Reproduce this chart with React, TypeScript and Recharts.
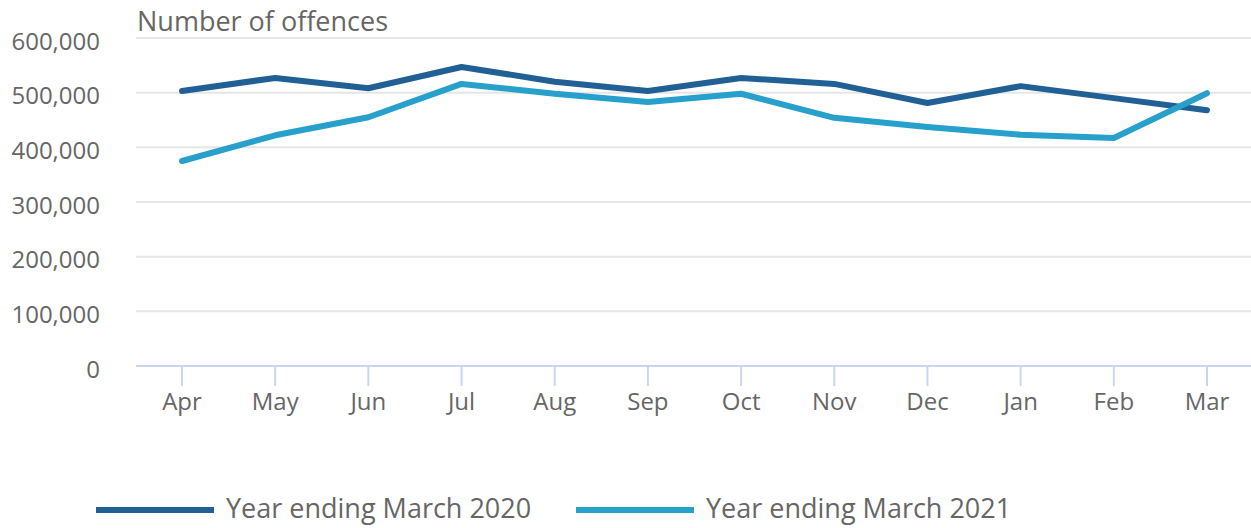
import React from "react";
import { LineChart, Line, XAxis, YAxis, CartesianGrid } from "recharts";

const months = ["Apr", "May", "Jun", "Jul", "Aug", "Sep", "Oct", "Nov", "Dec", "Jan", "Feb", "Mar"];
const year2020 = [503000, 527000, 508000, 547000, 520000, 503000, 527000, 516000, 481000, 512000, 490000, 468000];
const year2021 = [375000, 422000, 455000, 516000, 498000, 483000, 498000, 454000, 437000, 423000, 417000, 499000];
const yTicks = [0, 100000, 200000, 300000, 400000, 500000, 600000];
const seriesNames = ["Year ending March 2020", "Year ending March 2021"];
const seriesColors = ["#206095", "#27a0cc"];
const yTitle = "Number of offences";

const data = months.map((m, i) => ({ month: m, y2020: year2020[i], y2021: year2021[i] }));

const FONT = "'Open Sans', sans-serif";
const TEXT = "#666666";

export default function App() {
  return (
    <div style={{ position: "absolute", left: 0, top: 0, width: 1251, height: 528, fontFamily: FONT }}>
      <LineChart width={1251} height={528} data={data} margin={{ top: 38, right: 0, bottom: 102, left: 0 }}>
        <CartesianGrid vertical={false} stroke="#e6e6e6" strokeWidth={2} />
        <XAxis
          dataKey="month"
          padding={{ left: 46, right: 44 }}
          axisLine={{ stroke: "#ccd6eb", strokeWidth: 2 }}
          tickLine={{ stroke: "#ccd6eb", strokeWidth: 2 }}
          tickSize={20}
          tickMargin={7}
          height={60}
          interval={0}
          tick={{ fill: TEXT, fontSize: 24, fontFamily: FONT }}
        />
        <YAxis
          domain={[0, 600000]}
          ticks={yTicks}
          width={136}
          axisLine={false}
          tickLine={false}
          tickSize={0}
          tickMargin={36}
          tickFormatter={(v: number) => v.toLocaleString("en-US")}
          tick={{ fill: TEXT, fontSize: 24, fontFamily: FONT, dy: 3 }}
        />
        <Line type="linear" dataKey="y2020" name={seriesNames[0]} stroke={seriesColors[0]} strokeWidth={6} dot={false} activeDot={false} strokeLinecap="round" strokeLinejoin="round" isAnimationActive={false} />
        <Line type="linear" dataKey="y2021" name={seriesNames[1]} stroke={seriesColors[1]} strokeWidth={6} dot={false} activeDot={false} strokeLinecap="round" strokeLinejoin="round" isAnimationActive={false} />
      </LineChart>
      <svg width={1251} height={528} style={{ position: "absolute", left: 0, top: 0, pointerEvents: "none" }}>
        <text x={137} y={31} fill={TEXT} fontSize={27} fontFamily={FONT}>{yTitle}</text>
        {seriesNames.map((name, i) => {
          const x0 = i === 0 ? 96 : 576;
          return (
            <g key={name}>
              <line x1={x0} x2={x0 + 118} y1={510} y2={510} stroke={seriesColors[i]} strokeWidth={6} />
              <text x={x0 + 130} y={518} fill={TEXT} fontSize={27} fontFamily={FONT}>{name}</text>
            </g>
          );
        })}
      </svg>
    </div>
  );
}
